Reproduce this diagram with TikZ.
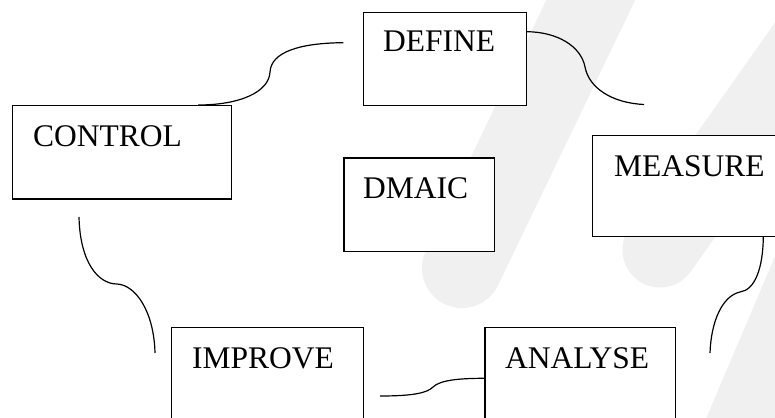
\documentclass[tikz,border=0pt]{standalone}
\usepackage{fontspec}
\setmainfont{Liberation Serif}
\usetikzlibrary{calc}
\tikzset{
  box/.style={draw=black, fill=white, line width=1.2pt, rectangle, anchor=north west, inner sep=0pt},
  lbl/.style={anchor=base west, inner sep=0pt, font=\fontsize{31.5}{36}\selectfont},
  link/.style={draw=black, line width=1.2pt},
  wmark/.style={draw=black!6, line cap=round, line join=round}
}
\begin{document}
\begin{tikzpicture}[x=1pt,y=-1pt]
\useasboundingbox (0,0) rectangle (775,417);
\clip (0,0) rectangle (775,417);
\fill[white] (0,0) rectangle (775,417);
% faint watermark
\draw[wmark, line width=80pt] (610,-40) -- (462,268);
\draw[wmark, line width=75pt] (830,10) -- (660,250);
\draw[wmark, line width=70pt] (820,240) -- (735,440);
% boxes
\node[box, minimum width=163.3pt, minimum height=93.6pt] (define) at (362.7,11.7) {};
\node[box, minimum width=219.3pt, minimum height=93.3pt] (control) at (11.7,105) {};
\node[box, minimum width=200pt, minimum height=100.7pt] (measure) at (591.7,135) {};
\node[box, minimum width=150.7pt, minimum height=93.7pt] (dmaic) at (343.3,157.3) {};
\node[box, minimum width=192pt, minimum height=100pt] (improve) at (170.7,326.7) {};
\node[box, minimum width=190.7pt, minimum height=100pt] (analyse) at (484.3,326.7) {};
% labels
\node[lbl] (tdefine) at (383,52) {DEFINE};
\node[lbl] (tcontrol) at (33,146) {CONTROL};
\node[lbl] (tmeasure) at (614,176.7) {MEASURE};
\node[lbl] (tdmaic) at (363,198) {DMAIC};
\node[lbl] (timprove) at (192,368) {IMPROVE};
\node[lbl] (tanalyse) at (505,368) {ANALYSE};
% connector end points
\coordinate (c1a) at (343.3,42.7);
\coordinate (c1b) at ($(control.north west)+(186.5,0)$);
\coordinate (c2a) at ($(define.north east)+(0,20)$);
\coordinate (c2b) at (644,104.5);
\coordinate (c3a) at (79,217);
\coordinate (c3b) at (155,353);
\coordinate (c4a) at ($(measure.south west)+(171.6,0)$);
\coordinate (c4b) at (710,353);
\coordinate (c5a) at (380,396);
\coordinate (c5b) at ($(analyse.north west)+(0,51.6)$);
% connectors
\draw[link] (c1a) .. controls (300,43) and (271,52) .. (270,72)
            .. controls (269,92) and (240,105) .. (c1b);
\draw[link] (c2a) .. controls (557,32) and (581,46) .. (585,67)
            .. controls (589,88) and (612,103) .. (c2b);
\draw[link] (c3a) .. controls (80,262) and (98,284) .. (117,284)
            .. controls (136,285) and (154,312) .. (c3b);
\draw[link] (c4a) .. controls (763,268) and (755,290) .. (740,292)
            .. controls (722,296) and (711,322) .. (c4b);
\draw[link] (c5a) .. controls (413,396) and (427,393) .. (433,387)
            .. controls (440,380) and (460,378.3) .. (c5b);
\end{tikzpicture}
\end{document}
